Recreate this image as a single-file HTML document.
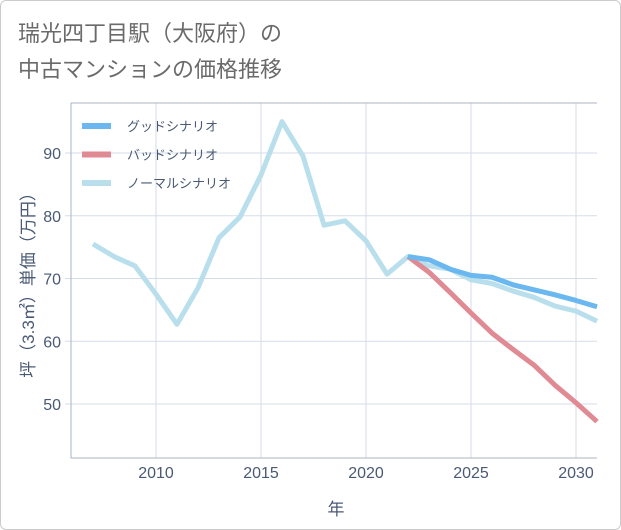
<!DOCTYPE html>
<html><head><meta charset="utf-8"><style>
body{margin:0;background:#fff;font-family:"Liberation Sans","Noto Sans CJK JP",sans-serif;}
#card{position:absolute;left:0;top:0;width:619px;height:528px;border:1px solid #ccc;border-radius:6px;background:#fff;}
</style></head><body>
<div id="card"></div>
<svg id="chart" width="621" height="530" style="position:absolute;left:0;top:0">
<text x="18" y="41" font-size="22" fill="#6a6a6a" font-family="Liberation Sans, Noto Sans CJK JP, sans-serif">瑞光四丁目駅（大阪府）の</text>
<text x="18" y="77" font-size="22" fill="#6a6a6a" font-family="Liberation Sans, Noto Sans CJK JP, sans-serif">中古マンションの価格推移</text>
<g id="grid"></g><g id="series"></g><g id="axes"></g>
<text x="336" y="515" font-size="17" fill="#4a5a75" text-anchor="middle" font-family="Liberation Sans, Noto Sans CJK JP, sans-serif">年</text>
<text transform="translate(34,281) rotate(-90)" font-size="17" fill="#4a5a75" text-anchor="middle" font-family="Liberation Sans, Noto Sans CJK JP, sans-serif">坪（3.3㎡）単価（万円）</text>
<g id="legend"></g>
</svg>
<script>
const years=[2007,2008,2009,2010,2011,2012,2013,2014,2015,2016,2017,2018,2019,2020,2021,2022,2023,2024,2025,2026,2027,2028,2029,2030,2031];
const normalValues=[75.5,73.5,72,67.5,62.7,68.5,76.5,79.8,86.5,95,89.5,78.5,79.2,76,70.7,73.5,72,71.5,69.8,69.2,68,67,65.6,64.8,63.2];
const futureYears=[2022,2023,2024,2025,2026,2027,2028,2029,2030,2031];
const goodValues=[73.5,73,71.5,70.5,70.2,69,68.2,67.4,66.5,65.5];
const badValues=[73.5,71,67.8,64.5,61.3,58.7,56.2,53,50.2,47.2];
const xTicks=[2010,2015,2020,2025,2030];
const yTicks=[50,60,70,80,90];
const NS="http://www.w3.org/2000/svg";
const L=71,R=597,T=103,B=458;
const xs=y=>156+(y-2010)*21;
const ys=v=>153+(90-v)*6.275;
function mk(tag,attrs,parent){const e=document.createElementNS(NS,tag);for(const k in attrs)e.setAttribute(k,attrs[k]);parent.appendChild(e);return e;}
const grid=document.getElementById('grid'),axes=document.getElementById('axes'),ser=document.getElementById('series'),leg=document.getElementById('legend');
xTicks.forEach(t=>{const l=mk('line',{x1:xs(t),x2:xs(t),y1:T,y2:B,stroke:'#d5dde8','stroke-width':1},grid);


const tx=mk('text',{x:xs(t),y:B+20,'font-size':16,fill:'#4a5a75','text-anchor':'middle'},axes);tx.textContent=t;

});
yTicks.forEach(t=>{const l=mk('line',{x1:L-6,x2:R,y1:ys(t),y2:ys(t),stroke:'#d5dde8','stroke-width':1},grid);


const tx=mk('text',{x:L-10,y:ys(t)+6,'font-size':16,fill:'#4a5a75','text-anchor':'end'},axes);tx.textContent=t;

});
const frame=mk('path',{d:`M${L},${T}H${R}M${L},${T}V${B}H${R}`,fill:'none',stroke:'#aab4c2','stroke-width':1},axes);


function line(xv,yv,color,name){const d=xv.map((x,i)=>(i?'L':'M')+xs(x)+','+ys(yv[i])).join('');
const p=mk('path',{d:d,fill:'none',stroke:color,'stroke-width':5,'stroke-linejoin':'round'},ser);

}
line(years,normalValues,'#b8dfeb','normal-scenario-line');
line(futureYears,badValues,'#e08a94','bad-scenario-line');
line(futureYears,goodValues,'#6ab8ef','good-scenario-line');
[['グッドシナリオ','#6ab8ef','legend-good'],['バッドシナリオ','#e08a94','legend-bad'],['ノーマルシナリオ','#b8dfeb','legend-normal']].forEach((e,i)=>{
const g=mk('g',{},leg);


const y=126+i*28.5;
mk('line',{x1:82,x2:111,y1:y,y2:y,stroke:e[1],'stroke-width':6},g);
const t=mk('text',{x:127,y:y+5,'font-size':13,fill:'#4a5a75'},g);t.textContent=e[0];});
</script>
</body></html>
